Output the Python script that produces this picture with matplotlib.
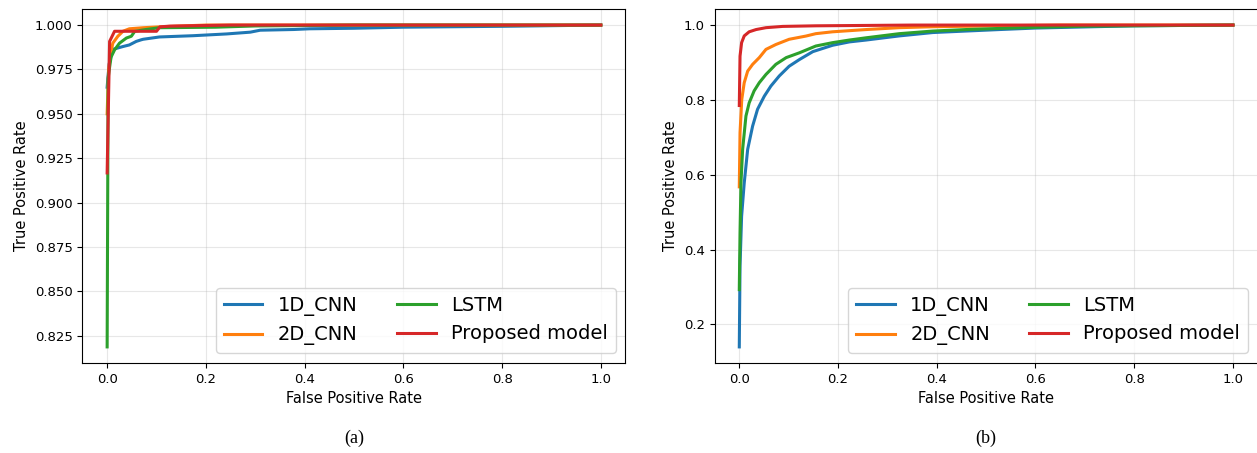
import numpy as np
import matplotlib.pyplot as plt

plt.rcParams['font.family'] = ['DejaVu Sans']

# ---- panel (a) ROC points ----
a_cnn1_fpr = [0.0, 0.0, 0.004, 0.0115, 0.032, 0.045, 0.059, 0.069, 0.073, 0.106,
              0.174, 0.242, 0.29, 0.31, 0.378, 0.41, 0.5, 0.6, 0.8, 1.0]
a_cnn1_tpr = [0.0, 0.965, 0.978, 0.9863, 0.9879, 0.9888, 0.9908, 0.9917, 0.992,
              0.9933, 0.994, 0.995, 0.996, 0.9971, 0.9975, 0.9979, 0.9982,
              0.9988, 0.9993, 1.0]
a_cnn2_fpr = [0.0, 0.0, 0.003, 0.008, 0.0115, 0.0217, 0.032, 0.045, 0.073, 0.107,
              0.14, 0.2, 1.0]
a_cnn2_tpr = [0.0, 0.95, 0.975, 0.985, 0.9898, 0.9937, 0.9965, 0.9979, 0.9985,
              0.999, 0.9994, 1.0, 1.0]
a_lstm_fpr = [0.0, 0.0, 0.002, 0.005, 0.008, 0.015, 0.025, 0.039, 0.049, 0.056,
              0.079, 0.106, 0.22, 0.3, 0.5, 1.0]
a_lstm_tpr = [0.0, 0.8187, 0.97, 0.9763, 0.982, 0.986, 0.9898, 0.9927, 0.9937,
              0.9965, 0.9975, 0.9985, 0.9988, 0.9995, 1.0, 1.0]
a_prop_fpr = [0.0, 0.0, 0.005, 0.015, 0.1, 0.107, 0.127, 0.25, 1.0]
a_prop_tpr = [0.0, 0.9167, 0.9908, 0.9965, 0.9965, 0.999, 0.9994, 1.0, 1.0]

# ---- panel (b) ----
b_cnn1_fpr = [0.0, 0.0, 0.0015, 0.0047, 0.01, 0.017, 0.027, 0.037, 0.0507, 0.064,
              0.081, 0.101, 0.122, 0.149, 0.189, 0.223, 0.257, 0.324, 0.392,
              0.459, 0.527, 0.6, 0.7, 0.8, 1.0]
b_cnn1_tpr = [0.0, 0.14, 0.356, 0.489, 0.578, 0.668, 0.73, 0.775, 0.81, 0.837,
              0.864, 0.89, 0.908, 0.929, 0.946, 0.955, 0.96, 0.971, 0.98, 0.984,
              0.988, 0.992, 0.995, 0.998, 1.0]
b_cnn2_fpr = [0.0, 0.0, 0.0015, 0.005, 0.01, 0.017, 0.027, 0.0405, 0.054, 0.074,
              0.101, 0.135, 0.155, 0.189, 0.257, 0.324, 0.392, 0.527, 0.65, 1.0]
b_cnn2_tpr = [0.0, 0.5677, 0.712, 0.801, 0.846, 0.877, 0.895, 0.913, 0.935, 0.948,
              0.962, 0.9706, 0.977, 0.982, 0.988, 0.993, 0.9955, 0.998, 1.0, 1.0]
b_lstm_fpr = [0.0, 0.0, 0.0015, 0.0034, 0.0068, 0.0135, 0.02, 0.03, 0.0405, 0.054,
              0.074, 0.095, 0.122, 0.155, 0.189, 0.223, 0.257, 0.324, 0.392,
              0.459, 0.527, 0.6, 0.7, 1.0]
b_lstm_tpr = [0.0, 0.293, 0.445, 0.578, 0.668, 0.757, 0.792, 0.824, 0.846, 0.868,
              0.895, 0.913, 0.926, 0.944, 0.953, 0.96, 0.966, 0.977, 0.984, 0.988,
              0.991, 0.994, 0.997, 1.0]
b_prop_fpr = [0.0, 0.0, 0.0015, 0.0047, 0.01, 0.02, 0.034, 0.054, 0.088, 0.155,
              0.257, 0.35, 1.0]
b_prop_tpr = [0.0, 0.785, 0.917, 0.953, 0.971, 0.982, 0.988, 0.993, 0.9964, 0.998,
              0.999, 1.0, 1.0]

labels = ['1D_CNN', '2D_CNN', 'LSTM', 'Proposed model']
colors = ['#1f77b4', '#ff7f0e', '#2ca02c', '#d62728']


def roc_panel(ax, curves):
    # skip the (0, 0) point so the y range hugs the visible data
    for (fpr, tpr), lbl, col in zip(curves, labels, colors):
        ax.plot(fpr[1:], tpr[1:], color=col, lw=2.2, label=lbl)
    ax.set_xlabel('False Positive Rate', fontsize=10.5)
    ax.set_ylabel('True Positive Rate', fontsize=10.5)
    ax.tick_params(labelsize=9.5)
    ax.grid(True, alpha=0.3)
    ax.legend(loc='lower right', ncols=2, fontsize=14)


fig = plt.figure(figsize=(12.57, 4.53), dpi=100)
ax1 = fig.add_axes([0.0656, 0.1987, 0.432, 0.7815])
ax2 = fig.add_axes([0.5685, 0.1987, 0.432, 0.7815])

roc_panel(ax1, [(a_cnn1_fpr, a_cnn1_tpr), (a_cnn2_fpr, a_cnn2_tpr),
                (a_lstm_fpr, a_lstm_tpr), (a_prop_fpr, a_prop_tpr)])
roc_panel(ax2, [(b_cnn1_fpr, b_cnn1_tpr), (b_cnn2_fpr, b_cnn2_tpr),
                (b_lstm_fpr, b_lstm_tpr), (b_prop_fpr, b_prop_tpr)])

ax1.set_yticks(np.arange(0.825, 1.001, 0.025))
ax1.yaxis.set_major_formatter(plt.FormatStrFormatter('%.3f'))

# sub-figure captions
fig.text(0.2815, 0.022, '(a)', ha='center', family='Liberation Serif', fontsize=13)
fig.text(0.7845, 0.022, '(b)', ha='center', family='Liberation Serif', fontsize=13)

fig.savefig('out.png', dpi=100)
